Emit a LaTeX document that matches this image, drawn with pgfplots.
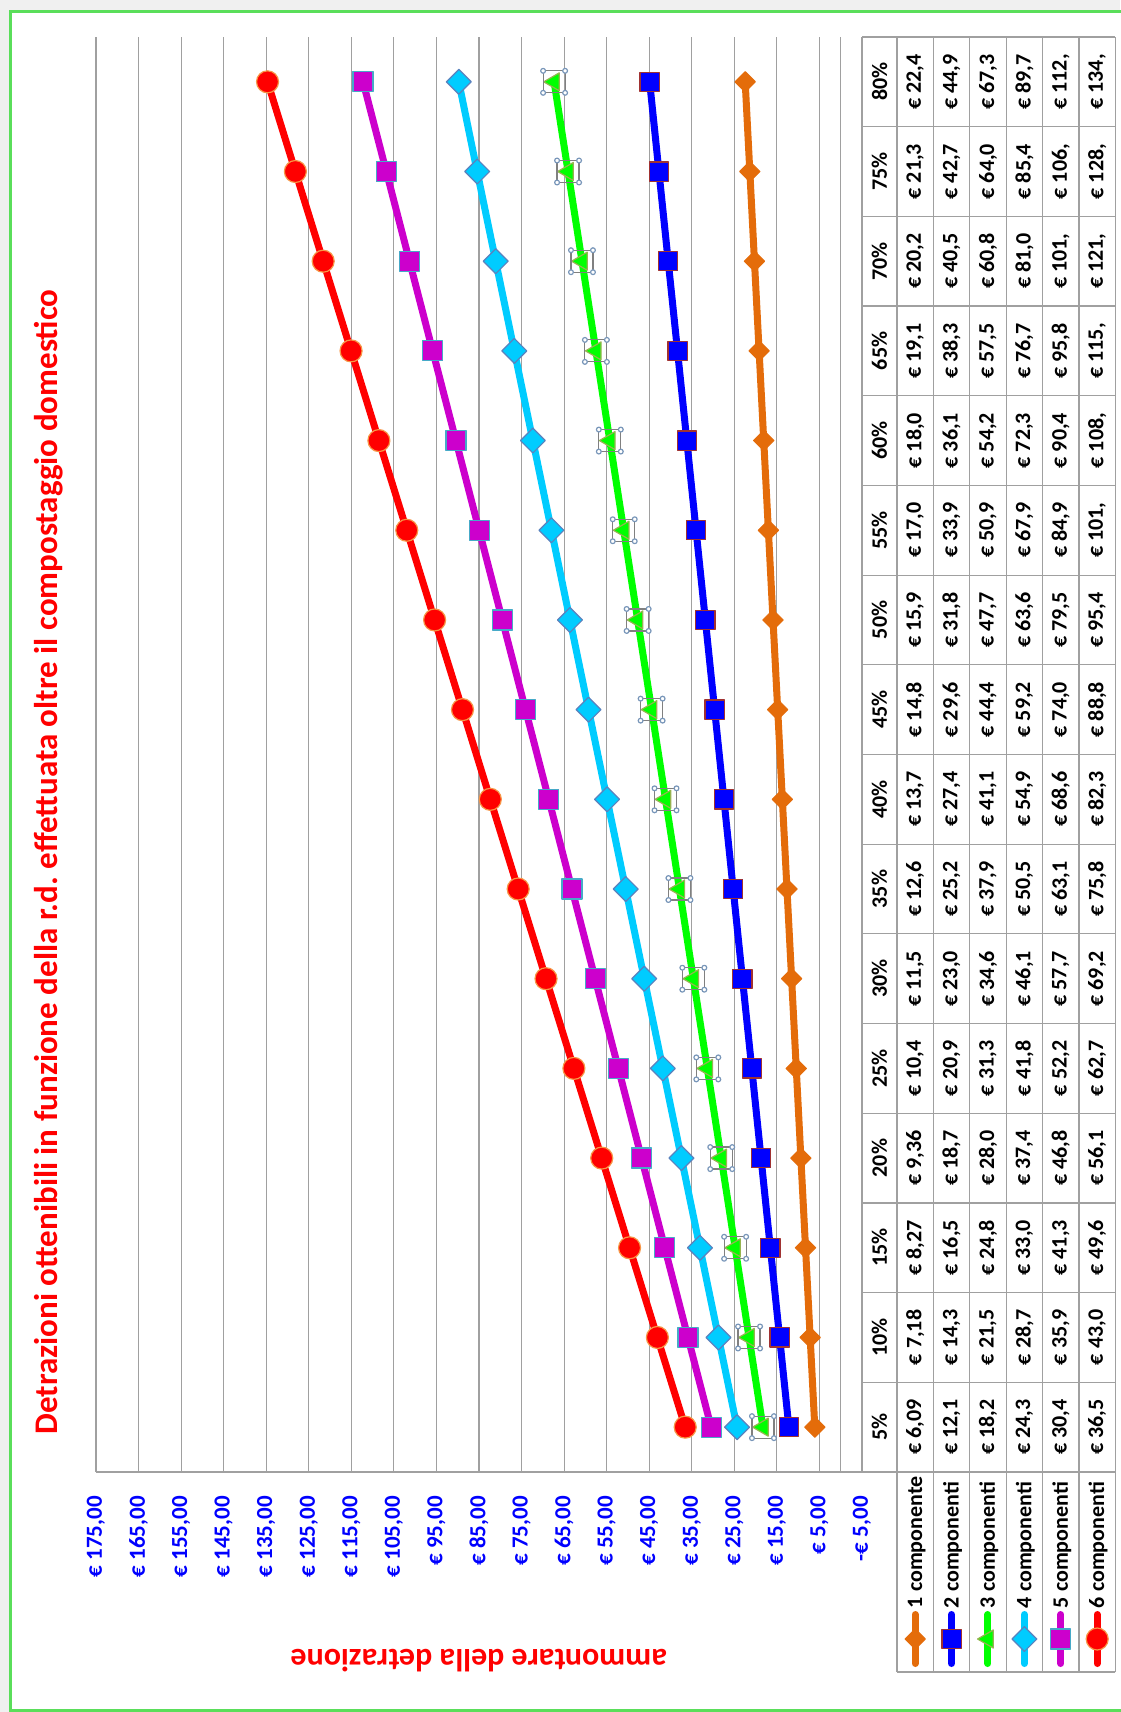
\documentclass[border=0pt]{standalone}
\usepackage{graphicx}
\usepackage{fontspec}
\setmainfont{Carlito}
\usepackage{pgfplots}
\pgfplotsset{compat=1.18}
\frenchspacing

\definecolor{c1}{RGB}{228,108,10}
\definecolor{c2}{RGB}{0,0,255}
\definecolor{c3}{RGB}{0,255,0}
\definecolor{c4}{RGB}{0,204,255}
\definecolor{c5}{RGB}{204,0,204}
\definecolor{c6}{RGB}{255,0,0}
\definecolor{b2}{RGB}{160,50,50}
\definecolor{b3}{RGB}{150,180,80}
\definecolor{b4}{RGB}{90,130,190}
\definecolor{b5}{RGB}{70,170,200}
\definecolor{b6}{RGB}{247,150,70}
\definecolor{gridgray}{RGB}{160,160,160}
\definecolor{framegreen}{RGB}{90,222,90}
\definecolor{selblue}{RGB}{120,150,185}

% selection handles around the green markers
\pgfdeclareplotmark{selbox}{%
  \pgfsetlinewidth{0.6pt}%
  \pgfsetstrokecolor{gray}%
  \pgfpathrectangle{\pgfpoint{-5.5pt}{-5.5pt}}{\pgfpoint{11pt}{11pt}}%
  \pgfusepath{stroke}%
  \pgfsetstrokecolor{selblue}\pgfsetfillcolor{white}%
  \pgfpathcircle{\pgfpoint{-5.5pt}{-5.5pt}}{1.2pt}%
  \pgfpathcircle{\pgfpoint{5.5pt}{-5.5pt}}{1.2pt}%
  \pgfpathcircle{\pgfpoint{-5.5pt}{5.5pt}}{1.2pt}%
  \pgfpathcircle{\pgfpoint{5.5pt}{5.5pt}}{1.2pt}%
  \pgfusepath{fill,stroke}}

\begin{document}
\rotatebox{90}{%
\begin{tikzpicture}[x=1pt,y=1pt]
\useasboundingbox (0,0) rectangle (856,560);
\fill[gray!12] (0,0) rectangle (856,560);
\fill[white] (0,0) rectangle (850,554.5);
\draw[framegreen, line width=1.5pt] (0.75,-2) -- (0.75,554.5) -- (850,554.5) -- (850,-2);

\begin{axis}[
    at={(120pt,129pt)}, anchor=south west,
    scale only axis, width=717.5pt, height=383pt,
    xmin=-0.5, xmax=15.5, ymin=-5, ymax=175,
    axis x line*=middle, axis y line*=left,
    axis line style={gridgray, line width=0.6pt, -},
    xtick=\empty,
    ytick={-5,5,...,175},
    yticklabels={{-€ 5,00},{€ 5,00},{€ 15,00},{€ 25,00},{€ 35,00},{€ 45,00},{€ 55,00},{€ 65,00},{€ 75,00},{€ 85,00},{€ 95,00},{€ 105,00},{€ 115,00},{€ 125,00},{€ 135,00},{€ 145,00},{€ 155,00},{€ 165,00},{€ 175,00}},
    yticklabel style={font=\fontsize{11.5}{13}\selectfont\bfseries, text=c2, xshift=-8.6pt},
    major tick length=0pt,
    ymajorgrids, grid style={gridgray, line width=0.6pt},
    every axis title shift=0pt,
    title={Detrazioni ottenibili in funzione della r.d. effettuata oltre il compostaggio domestico},
    title style={at={(axis description cs:0.4251,1.0614)}, anchor=center,
        font=\fontsize{16.5}{19}\selectfont\bfseries, text=c6},
    ylabel={ammontare della detrazione},
    ylabel style={at={(axis description cs:-0.1314,0.5)}, anchor=center,
        font=\fontsize{16}{19}\selectfont\bfseries, text=c6},
    clip=false,
    every axis plot/.append style={line width=3.5pt, line cap=round, line join=round},
    legend image code/.code={\draw[mark repeat=2,mark phase=2,#1] plot coordinates {(0pt,0pt) (12.25pt,0pt) (24.5pt,0pt)};},
    legend cell align=left,
    legend style={at={(axis description cs:-0.13589,-0.04569)}, anchor=north west,
        draw=none, fill=none, inner sep=0pt, outer sep=0pt, row sep=0pt, column sep=1.5pt,
        nodes={inner sep=0pt, text height=12.6pt, text depth=5.6pt,
            font=\fontsize{11}{13}\selectfont\bfseries}},
]
\addplot[c1, mark=square*, mark size=3.6pt, mark options={rotate=45, fill=c1, draw=c1, line width=0.5pt}]
    coordinates {(0,6.09) (1,7.18) (2,8.27) (3,9.36) (4,10.45) (5,11.54) (6,12.63) (7,13.72)
                 (8,14.81) (9,15.91) (10,17.00) (11,18.09) (12,19.18) (13,20.27) (14,21.36) (15,22.45)};
\addlegendentry{1 componente}
\addplot[c2, mark=square*, mark size=4.8pt, mark options={fill=c2, draw=b2, line width=0.6pt}]
    coordinates {(0,12.18) (1,14.36) (2,16.54) (3,18.72) (4,20.90) (5,23.09) (6,25.27) (7,27.45)
                 (8,29.63) (9,31.81) (10,33.99) (11,36.17) (12,38.35) (13,40.54) (14,42.72) (15,44.90)};
\addlegendentry{2 componenti}
\addplot[c3, mark=triangle*, mark size=5.2pt, mark options={fill=c3, draw=b3, line width=0.6pt}]
    coordinates {(0,18.27) (1,21.54) (2,24.81) (3,28.08) (4,31.35) (5,34.63) (6,37.90) (7,41.17)
                 (8,44.44) (9,47.72) (10,50.99) (11,54.26) (12,57.53) (13,60.80) (14,64.07) (15,67.35)};
\addlegendentry{3 componenti}
\addplot[c4, mark=square*, mark size=4.4pt, mark options={rotate=45, fill=c4, draw=b4, line width=0.6pt}]
    coordinates {(0,24.36) (1,28.72) (2,33.08) (3,37.44) (4,41.80) (5,46.17) (6,50.53) (7,54.90)
                 (8,59.26) (9,63.62) (10,67.98) (11,72.34) (12,76.70) (13,81.07) (14,85.43) (15,89.75)};
\addlegendentry{4 componenti}
\addplot[c5, mark=square*, mark size=5pt, mark options={fill=c5, draw=b5, line width=0.6pt}]
    coordinates {(0,30.45) (1,35.90) (2,41.35) (3,46.80) (4,52.25) (5,57.71) (6,63.16) (7,68.61)
                 (8,74.07) (9,79.52) (10,84.97) (11,90.42) (12,95.88) (13,101.33) (14,106.78) (15,112.24)};
\addlegendentry{5 componenti}
\addplot[c6, mark=*, mark size=5.5pt, mark options={fill=c6, draw=b6, line width=0.6pt}]
    coordinates {(0,36.54) (1,43.08) (2,49.62) (3,56.16) (4,62.70) (5,69.25) (6,75.79) (7,82.34)
                 (8,88.88) (9,95.43) (10,101.97) (11,108.52) (12,115.06) (13,121.61) (14,128.15) (15,134.69)};
\addlegendentry{6 componenti}
\addplot[forget plot, only marks, mark=selbox]
    coordinates {(0,18.27) (1,21.54) (2,24.81) (3,28.08) (4,31.35) (5,34.63) (6,37.90) (7,41.17)
                 (8,44.44) (9,47.72) (10,50.99) (11,54.26) (12,57.53) (13,60.80) (14,64.07) (15,67.35)};
\end{axis}

% data table under the plot
\begin{scope}[gridgray, line width=0.6pt]
\draw (120,129) -- (837.5,129);
\foreach \y in {111.5,93.3,75.1,56.9,38.7,20.5,2.3} \draw (20,\y) -- (837.5,\y);
\foreach \k in {0,...,16} \draw ({120+44.84375*\k},2.3) -- ({120+44.84375*\k},129);
\draw (20,2.3) -- (20,111.5);
\end{scope}
\begin{scope}[every node/.style={font=\fontsize{11}{13}\selectfont\bfseries, inner sep=0pt}]
\foreach \t [count=\k from 0] in {5\%,10\%,15\%,20\%,25\%,30\%,35\%,40\%,45\%,50\%,55\%,60\%,65\%,70\%,75\%,80\%}
    \node at ({120+44.84375*(\k+0.5)},120.25) {\t};
\foreach \t [count=\k from 0] in {{€ 6,09},{€ 7,18},{€ 8,27},{€ 9,36},{€ 10,4},{€ 11,5},{€ 12,6},{€ 13,7},{€ 14,8},{€ 15,9},{€ 17,0},{€ 18,0},{€ 19,1},{€ 20,2},{€ 21,3},{€ 22,4}}
    \node at ({120+44.84375*(\k+0.5)},102.4) {\t};
\foreach \t [count=\k from 0] in {{€ 12,1},{€ 14,3},{€ 16,5},{€ 18,7},{€ 20,9},{€ 23,0},{€ 25,2},{€ 27,4},{€ 29,6},{€ 31,8},{€ 33,9},{€ 36,1},{€ 38,3},{€ 40,5},{€ 42,7},{€ 44,9}}
    \node at ({120+44.84375*(\k+0.5)},84.2) {\t};
\foreach \t [count=\k from 0] in {{€ 18,2},{€ 21,5},{€ 24,8},{€ 28,0},{€ 31,3},{€ 34,6},{€ 37,9},{€ 41,1},{€ 44,4},{€ 47,7},{€ 50,9},{€ 54,2},{€ 57,5},{€ 60,8},{€ 64,0},{€ 67,3}}
    \node at ({120+44.84375*(\k+0.5)},66.0) {\t};
\foreach \t [count=\k from 0] in {{€ 24,3},{€ 28,7},{€ 33,0},{€ 37,4},{€ 41,8},{€ 46,1},{€ 50,5},{€ 54,9},{€ 59,2},{€ 63,6},{€ 67,9},{€ 72,3},{€ 76,7},{€ 81,0},{€ 85,4},{€ 89,7}}
    \node at ({120+44.84375*(\k+0.5)},47.8) {\t};
\foreach \t [count=\k from 0] in {{€ 30,4},{€ 35,9},{€ 41,3},{€ 46,8},{€ 52,2},{€ 57,7},{€ 63,1},{€ 68,6},{€ 74,0},{€ 79,5},{€ 84,9},{€ 90,4},{€ 95,8},{€ 101,},{€ 106,},{€ 112,}}
    \node at ({120+44.84375*(\k+0.5)},29.6) {\t};
\foreach \t [count=\k from 0] in {{€ 36,5},{€ 43,0},{€ 49,6},{€ 56,1},{€ 62,7},{€ 69,2},{€ 75,8},{€ 82,3},{€ 88,8},{€ 95,4},{€ 101,},{€ 108,},{€ 115,},{€ 121,},{€ 128,},{€ 134,}}
    \node at ({120+44.84375*(\k+0.5)},11.4) {\t};
\end{scope}
\end{tikzpicture}}
\end{document}
